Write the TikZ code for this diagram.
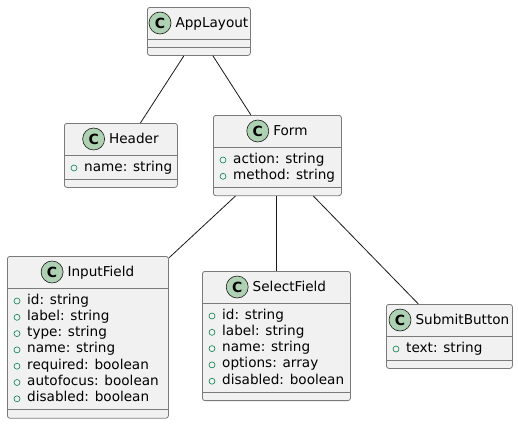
\documentclass[tikz,border=0pt]{standalone}
\usepackage{fontspec}
\setmainfont{DejaVu Sans}
\usepackage{tikz}
\usetikzlibrary{positioning}
\definecolor{classbg}{HTML}{F1F1F1}
\definecolor{classline}{HTML}{7A7A7A}
\definecolor{linkline}{HTML}{181818}
\definecolor{spotgreen}{HTML}{ADD1B2}
\definecolor{attrgreen}{HTML}{038048}
\tikzset{
    class-box/.style = {draw=classline, fill=classbg, line width=0.8pt, rectangle, rounded corners=2.5pt, inner sep=0pt, anchor=north west},
    class-rule/.style = {draw=classline, line width=0.8pt},
    class-name/.style = {inner sep=0pt, font=\fontsize{13.6}{16}\selectfont, text height=11pt, text depth=3pt},
    class-spot/.style = {circle, draw=linkline, fill=spotgreen, line width=0.6pt, minimum size=22pt, inner sep=0pt, font=\fontsize{14}{16}\selectfont\bfseries},
    attr-text/.style = {anchor=west, inner sep=0pt, font=\fontsize{13.6}{16}\selectfont, text height=11pt, text depth=3pt},
    attr-dot/.style = {circle, draw=attrgreen, line width=0.6pt, minimum size=6pt, inner sep=0pt},
    link/.style = {draw=linkline, line width=0.8pt},
}
% #1 name, #2 title, #3 x, #4 y, #5 width, #6 number of attributes, #7 attributes
\newcommand{\umlclass}[7]{%
    \pgfmathsetmacro\attrh{#6==0 ? 8 : 24+(#6-1)*16.3}
    \node[class-box, minimum width=#5pt, minimum height={40+\attrh}] (#1) at (#3,#4) {};
    \draw[class-rule] ([yshift=-32pt]#1.north west) -- ([yshift=-32pt]#1.north east);
    \draw[class-rule] ([yshift={-(32+\attrh)}]#1.north west) -- ([yshift={-(32+\attrh)}]#1.north east);
    \node[class-name] (#1-name) at ([xshift=13pt,yshift=-16pt]#1.north) {#2};
    \node[class-spot, left=4pt of #1-name] (#1-spot) {C};
    \ifnum#6>0
    \foreach \t [count=\i] in {#7} {
        \node[attr-dot] (#1-dot-\i) at ([xshift=10pt,yshift={-(45+(\i-1)*16.3)}]#1.north west) {};
        \node[attr-text] (#1-attr-\i) at ([xshift=20pt,yshift={-(44+(\i-1)*16.3)}]#1.north west) {\t};
    }
    \fi
}

\begin{document}
\begin{tikzpicture}[x=1pt, y=-1pt]
\useasboundingbox (0,0) rectangle (518,423);

\umlclass{app}{AppLayout}{147}{7}{103}{0}{}
\umlclass{header}{Header}{64}{123}{113}{1}{name: string}
\umlclass{form}{Form}{213}{115}{128}{2}{action: string, method: string}
\umlclass{input}{InputField}{7}{256}{161}{7}{id: string, label: string, type: string, name: string, required: boolean, autofocus: boolean, disabled: boolean}
\umlclass{select}{SelectField}{202}{271}{148}{5}{id: string, label: string, name: string, options: array, disabled: boolean}
\umlclass{submit}{SubmitButton}{386}{304}{126}{1}{text: string}

% associations
\draw[link] ([xshift=-15pt]app.south) -- ([xshift=19.5pt]header.north);
\draw[link] ([xshift=14pt]app.south) -- ([xshift=-26.5pt]form.north);
\draw[link] ([xshift=-42pt]form.south) -- ([yshift=-2pt]input.north east);
\draw[link] (select.north |- form.south) -- (select.north);
\draw[link] ([xshift=36pt]form.south) -- ([xshift=-31pt]submit.north);
\end{tikzpicture}
\end{document}
